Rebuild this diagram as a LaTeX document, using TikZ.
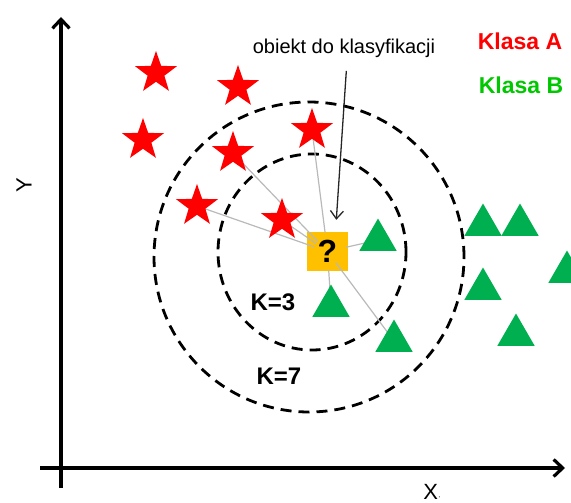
\documentclass[tikz,border=0pt]{standalone}
\usepackage{fontspec}
\setmainfont{Liberation Sans}
\usetikzlibrary{arrows.meta,shapes.geometric}
\pgfdeclarelayer{front}
\pgfsetlayers{main,front}
\definecolor{starred}{RGB}{255,0,0}
\definecolor{trigreen}{RGB}{0,176,80}
\definecolor{labgreen}{RGB}{0,200,0}
\definecolor{qorange}{RGB}{255,192,0}

\begin{document}
\begin{tikzpicture}[
    x=1pt, y=-1pt,
    axis/.style  = {line width=3.2pt,
                    -{Straight Barb[length=9pt,width=17pt]}},
    ring/.style  = {draw, line width=2.8pt, dash pattern=on 11pt off 7pt},
    starA/.style = {star, star points=5, star point ratio=2.5,
                    fill=starred, inner sep=0pt, minimum size=44pt},
    triB/.style  = {regular polygon, regular polygon sides=3,
                    fill=trigreen, inner sep=0pt, minimum size=43pt},
    qbox/.style  = {fill=qorange, minimum width=41pt, minimum height=39pt,
                    inner sep=0pt, font=\fontsize{32}{32}\selectfont\bfseries},
    link/.style  = {draw=gray!55, line width=1.2pt},
    ptr/.style   = {line width=1.3pt, draw=black!85,
                    -{Straight Barb[length=8pt,width=13pt]}},
    txt/.style   = {font=\fontsize{20}{24}\selectfont},
    axlab/.style = {font=\fontsize{22}{26}\selectfont},
    klasa/.style = {font=\fontsize{23}{27}\selectfont\bfseries},
    kval/.style  = {font=\fontsize{24}{28}\selectfont\bfseries},
]
\useasboundingbox (0,0) rectangle (571,503);

% ============ axes ============
\coordinate (ybot)   at (61,488);
\coordinate (ytop)   at (61,17);
\coordinate (xleft)  at (40,468);
\coordinate (xright) at (565,468);
\draw[axis] (ybot) -- (ytop);
\draw[axis] (xleft) -- (xright);
\node[axlab, rotate=90] (ylab) at (24,185) {Y};
\node[axlab, anchor=base, inner sep=0pt] (xlab) at (432,499)
    {X{\fontsize{8}{8}\selectfont ·}};

% ============ neighbourhoods ============
\draw[ring] (309,257) circle[x radius=155pt, y radius=155pt];
\draw[ring] (312,252) circle[x radius=94pt, y radius=98pt];

% ============ object to classify ============
\node[qbox] (q) at (327.5,251.5) {?};

% ============ class A: stars ============
\begin{pgfonlayer}{front}
\foreach \n/\x/\y in {1/156/73, 2/238/87, 3/143/140, 4/233/153,
                      5/312/130, 6/197/206, 7/282/220}
    \node[starA] (s\n) at (\x,\y) {};

% ============ class B: triangles ============
\foreach \n/\x/\y in {1/378/240, 2/331/306, 3/394/341, 4/483/225,
                      5/520/225, 6/483/289, 7/567/272, 8/516/335}
    \node[triB] (b\n) at (\x,\y) {};
\end{pgfonlayer}

% ============ distances to the 7 nearest ============
\foreach \t in {s4,s6,s7,b3}
    \draw[link, shorten <=14pt] (q.center) -- (\t.center);
\foreach \t in {s5,b1,b2}
    \draw[link, shorten <=19pt] (q.center) -- (\t.center);

% ============ labels ============
\node[txt] (obj) at (344,48) {obiekt do klasyfikacji};
\draw[ptr, shorten <=10pt, shorten >=12pt]
    ([xshift=3pt]obj.south) -- ([xshift=8pt]q.north);

\node[klasa, text=starred]  (ka) at (520,41) {Klasa A};
\node[klasa, text=labgreen] (kb) at (521,85) {Klasa B};

\node[kval] (k3) at (273,302) {K=3};
\node[kval] (k7) at (279,376) {K=7};

\end{tikzpicture}
\end{document}
